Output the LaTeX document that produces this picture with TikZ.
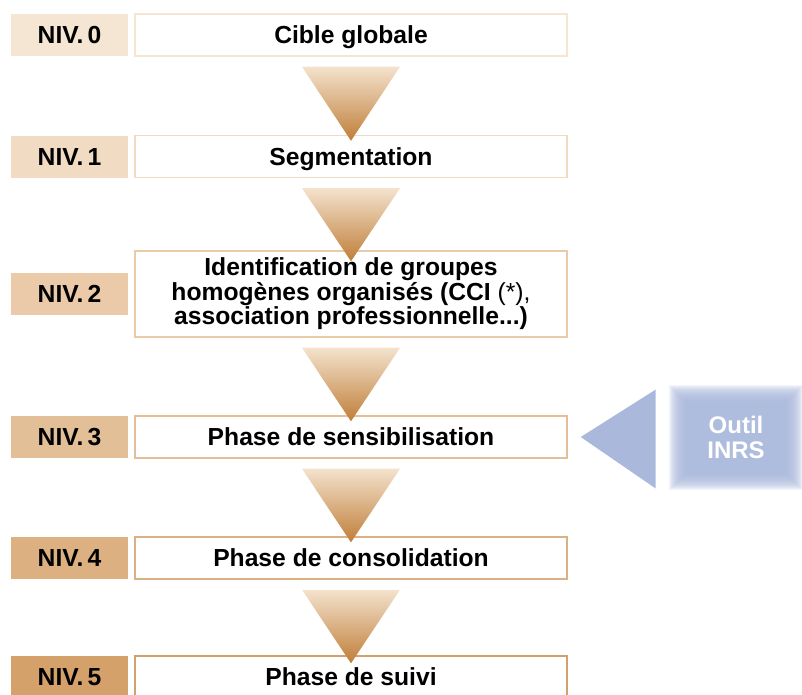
\documentclass[tikz,border=0pt]{standalone}
\usepackage{fontspec}
\setmainfont{Liberation Sans}
\usetikzlibrary{
positioning,
calc,
backgrounds
}
\definecolor{niv0}{HTML}{F5E5D3}
\definecolor{niv1}{HTML}{F1DBC3}
\definecolor{niv2}{HTML}{EACAA8}
\definecolor{niv3}{HTML}{E3BF98}
\definecolor{niv4}{HTML}{DCB080}
\definecolor{niv5}{HTML}{D5A16A}
\definecolor{flechehaut}{HTML}{F4E2CD}
\definecolor{flechebas}{HTML}{BF7E38}
\definecolor{outil}{HTML}{A9B8DB}
\tikzset{
lvlbox/.style={
fill=#1,
minimum width=87.75pt,
minimum height=31.5pt,
inner sep=0pt,
text height=13.25pt,
text depth=0pt,
font=\bfseries\fontsize{18.5}{20}\selectfont
},
phasebox/.style={
draw=#1,
line width=1.1pt,
fill=white,
align=center,
minimum width=324pt,
minimum height=31.5pt,
inner sep=0pt,
font=\bfseries\fontsize{18.5}{18.4}\selectfont
},
oneline/.style={
text height=13.25pt,
text depth=.5pt
},
fleche/.style={
top color=flechehaut,
bottom color=flechebas
}
}

\begin{document}
\begin{tikzpicture}[x=0.75pt,y=-0.75pt]
\useasboundingbox (0,0) rectangle (802,694);

\node[lvlbox=niv0] (n0) at (69.5,35) {NIV.\,0};
\node[lvlbox=niv1] (n1) at (69.5,156.5) {NIV.\,1};
\node[lvlbox=niv2] (n2) at (69.5,294) {NIV.\,2};
\node[lvlbox=niv3] (n3) at (69.5,437) {NIV.\,3};
\node[lvlbox=niv4] (n4) at (69.5,558) {NIV.\,4};
\node[lvlbox=niv5] (n5) at (69.5,677) {NIV.\,5};

\node[phasebox=niv0, oneline, right=4.5pt of n0] (cible) {Cible globale};
\node[phasebox=niv1, oneline, right=4.5pt of n1] (segm) {Segmentation};
\node[phasebox=niv2, right=4.5pt of n2, minimum height=64.5pt] (ident)
{Identification de groupes\\homogènes organisés (CCI {\mdseries(*),}\\association professionnelle...)};
\node[phasebox=niv3, oneline, right=4.5pt of n3] (sensi) {Phase de sensibilisation};
\node[phasebox=niv4, oneline, right=4.5pt of n4] (conso) {Phase de consolidation};
\node[phasebox=niv5, oneline, right=4.5pt of n5] (suivi) {Phase de suivi};

\shade[fleche] ($(cible.south)+(-49,10)$) -- ($(cible.south)+(49,10)$) -- ($(segm.north)+(0,6)$) -- cycle;
\shade[fleche] ($(segm.south)+(-49,10)$) -- ($(segm.south)+(49,10)$) -- ($(ident.north)+(0,11)$) -- cycle;
\shade[fleche] ($(ident.south)+(-49,10)$) -- ($(ident.south)+(49,10)$) -- ($(sensi.north)+(0,6)$) -- cycle;
\shade[fleche] ($(sensi.south)+(-49,10)$) -- ($(sensi.south)+(49,10)$) -- ($(conso.north)+(0,6)$) -- cycle;
\shade[fleche] ($(conso.south)+(-49,10)$) -- ($(conso.south)+(49,10)$) -- ($(suivi.north)+(0,8)$) -- cycle;

% outil INRS, bord flou
\node[text=white, align=center, minimum width=100.5pt, minimum height=78pt,
font=\bfseries\fontsize{18}{19}\selectfont] (outil) at (736,437.5) {Outil\\INRS};
\begin{scope}[on background layer]
\foreach \i in {0,...,17}
\fill[outil, opacity=.14] ($(outil.south west)+(\i*1,-\i*1)$) rectangle ($(outil.north east)+(-\i*1,\i*1)$);
\end{scope}
\fill[outil] ($(outil.west)+(-13,-48)$) -- ($(outil.west)+(-13,51)$) -- ($(sensi.east)+(13,0)$) -- cycle;

\end{tikzpicture}
\end{document}
